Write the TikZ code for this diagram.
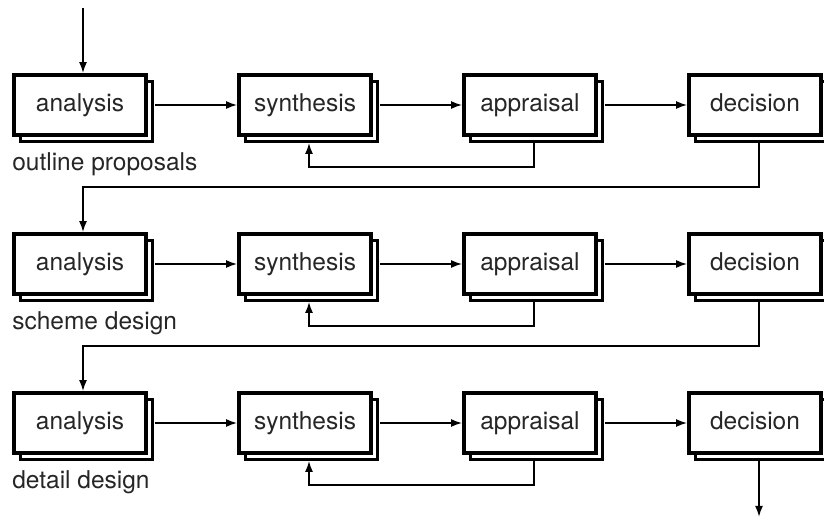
\documentclass[tikz,border=0pt]{standalone}
\usepackage{fontspec}
\setmainfont{TeX Gyre Heros}
\usetikzlibrary{positioning}
\usetikzlibrary{arrows.meta}
\usetikzlibrary{shadows}
\tikzset{	node distance=225pt,
	stage/.style={
		draw, line width=3.8pt, fill=white,
		minimum width=132pt, minimum height=60pt,
		inner sep=0pt, text height=17.5pt, text depth=5pt,
		text=black!85,
		general shadow={shadow xshift=6.5pt, shadow yshift=-6.5pt,
			draw=black, fill=white, line width=3.5pt}},
	phase/.style={
		inner sep=0pt,
		text=black!85},
	flow/.style={
		draw, line width=1.7pt,
		-{Latex[length=11pt,width=8pt]}}
}
\begin{document}
\begin{tikzpicture}[font=\fontsize{24.5}{29}\selectfont]
	\useasboundingbox (0,0) rectangle (824pt,-524pt);
	\node[stage] (a1) at (80pt,-105pt) {analysis};
	\node[stage, right of=a1] (s1) {synthesis};
	\node[stage, right of=s1] (p1) {appraisal};
	\node[stage, right of=p1] (d1) {decision};
	\node[stage, node distance=159pt, below of=a1] (a2) {analysis};
	\node[stage, right of=a2] (s2) {synthesis};
	\node[stage, right of=s2] (p2) {appraisal};
	\node[stage, right of=p2] (d2) {decision};
	\node[stage, node distance=159pt, below of=a2] (a3) {analysis};
	\node[stage, right of=a3] (s3) {synthesis};
	\node[stage, right of=s3] (p3) {appraisal};
	\node[stage, right of=p3] (d3) {decision};
	\node[phase, below right=16pt and 0pt of a1.south west] (l1) {outline proposals};
	\node[phase, below right=16pt and 0pt of a2.south west] (l2) {scheme design};
	\node[phase, below right=16pt and 0pt of a3.south west] (l3) {detail design};
	\coordinate (start) at ([xshift=3pt,yshift=65pt]a1.north);
	\coordinate (finish) at ([xshift=4pt,yshift=-62pt]d3.south);
	\draw[flow] (start) -- ([xshift=3pt]a1.north);
	\draw[flow] ([xshift=7pt]a1.east) -- (s1);
	\draw[flow] ([xshift=7pt]s1.east) -- (p1);
	\draw[flow] ([xshift=7pt]p1.east) -- (d1);
	\draw[flow] ([xshift=4pt,yshift=-6pt]p1.south) -- ++(0,-24pt) -| ([xshift=4pt,yshift=-6pt]s1.south);
	\draw[flow] ([xshift=4pt,yshift=-6pt]d1.south) -- ++(0,-44pt) -| ([xshift=3pt]a2.north);
	\draw[flow] ([xshift=7pt]a2.east) -- (s2);
	\draw[flow] ([xshift=7pt]s2.east) -- (p2);
	\draw[flow] ([xshift=7pt]p2.east) -- (d2);
	\draw[flow] ([xshift=4pt,yshift=-6pt]p2.south) -- ++(0,-24pt) -| ([xshift=4pt,yshift=-6pt]s2.south);
	\draw[flow] ([xshift=4pt,yshift=-6pt]d2.south) -- ++(0,-44pt) -| ([xshift=3pt]a3.north);
	\draw[flow] ([xshift=7pt]a3.east) -- (s3);
	\draw[flow] ([xshift=7pt]s3.east) -- (p3);
	\draw[flow] ([xshift=7pt]p3.east) -- (d3);
	\draw[flow] ([xshift=4pt,yshift=-6pt]p3.south) -- ++(0,-24pt) -| ([xshift=4pt,yshift=-6pt]s3.south);
	\draw[flow] ([xshift=4pt,yshift=-6pt]d3.south) -- (finish);
\end{tikzpicture}
\end{document}
